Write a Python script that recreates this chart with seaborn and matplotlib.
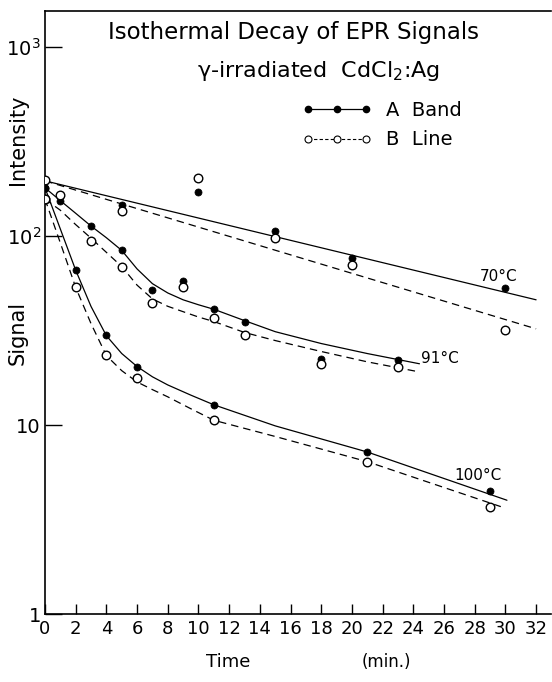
import numpy as np
import pandas as pd
import matplotlib
matplotlib.use("Agg")
import matplotlib.pyplot as plt
import seaborn as sns
from matplotlib.lines import Line2D
from matplotlib.ticker import FixedLocator, FixedFormatter, NullLocator

# ---- measured points (A band = filled, B line = open) ----
t70 = [0, 5, 10, 15, 20, 30]
a70 = [196, 146, 171, 106, 77, 53]
b70 = [199, 136, 203, 98, 70, 32]

t91 = [0, 1, 3, 5, 7, 9, 11, 13, 18, 23]
a91 = [180, 153, 113, 84, 52, 58, 41, 35, 22.4, 22.2]
b91 = [157, 165, 94, 69, 44, 54, 37, 30, 21, 20.4]

t100 = [0, 2, 4, 6, 11, 21, 29]
a100 = [180, 66, 30, 20.3, 12.8, 7.2, 4.46]
b100 = [157, 54, 23.6, 17.8, 10.6, 6.4, 3.7]

# ---- hand-drawn fit curves ----
f70_t = [0, 32]
f70_a = [196, 46]
f70_b = [196, 32.3]

f91_t = [0, 1, 2, 3, 4, 5, 6, 7, 8, 9, 10, 11, 13, 15, 18, 21, 24.4]
f91_a = [180, 154, 132, 113, 98, 84, 67, 56, 50, 46, 43.3, 41, 35.7, 31.2, 27, 23.9, 21.1]
f91_b = [157, 137, 115, 97.5, 82, 69, 55, 46.5, 42.5, 39.8, 37.3, 35.3, 30.9, 28, 24.5, 21.6, 19.1]

f100_ta = [0, 1, 2, 3, 4, 5, 6, 7, 8, 9.5, 11, 15, 21, 30.1]
f100_a = [180, 109, 66, 42.4, 29.7, 23.9, 20.4, 18, 16.3, 14.4, 12.8, 9.9, 7.2, 4.0]
f100_tb = [0, 1, 2, 3, 4, 5, 6, 7, 8, 9.5, 11, 15, 21, 29.7]
f100_b = [157, 92, 53.5, 34.4, 23.3, 19.4, 16.9, 15.4, 14.1, 12.2, 10.6, 8.7, 6.4, 3.7]

temp_labels = ["70°C", "91°C", "100°C"]
temp_label_t = [28.3, 24.5, 26.7]
temp_label_v = [61, 22.4, 5.4]

xticks = list(range(0, 33, 2))
yticks = [1, 10, 100, 1000]
ytick_labels = ["1", "10", "$10^2$", "$10^3$"]

sns.set_style("ticks")
plt.rcParams['font.family'] = ['DejaVu Sans']
plt.rcParams['text.color'] = 'black'
plt.rcParams['axes.labelcolor'] = 'black'
plt.rcParams['xtick.color'] = 'black'
plt.rcParams['ytick.color'] = 'black'

fig = plt.figure(figsize=(5.52, 6.82), dpi=100)
ax = fig.add_axes([45/552, 1-614/682, 1-45/552 - 0.001, (614-11)/682])

# curves
for tt, vv in [(f70_t, f70_a), (f91_t, f91_a), (f100_ta, f100_a)]:
    sns.lineplot(x=tt, y=vv, color='black', lw=0.9, sort=False, estimator=None, ax=ax)
for tt, vv in [(f70_t, f70_b), (f91_t, f91_b), (f100_tb, f100_b)]:
    sns.lineplot(x=tt, y=vv, color='black', lw=0.9, linestyle=(0, (6, 4)),
                 sort=False, estimator=None, ax=ax)

# points
for tt, vv in [(t70, a70), (t91, a91), (t100, a100)]:
    sns.scatterplot(x=tt, y=vv, color='black', edgecolor='black', s=26, marker='o',
                    linewidth=0.5, zorder=4, ax=ax)
for tt, vv in [(t70, b70), (t91, b91), (t100, b100)]:
    sns.scatterplot(x=tt, y=vv, color='white', edgecolor='black', s=38, marker='o',
                    linewidth=1.0, zorder=4, ax=ax)

ax.set_yscale('log')
ax.set_xlim(0, 33)
ax.set_ylim(1, 1553)
ax.xaxis.set_major_locator(FixedLocator(xticks))
ax.xaxis.set_major_formatter(FixedFormatter([str(v) for v in xticks]))
ax.yaxis.set_major_locator(FixedLocator(yticks))
ax.yaxis.set_major_formatter(FixedFormatter(ytick_labels))
ax.yaxis.set_minor_locator(NullLocator())
ax.tick_params(axis='y', direction='in', length=12, width=1, labelsize=14, pad=3, colors='black')
ax.tick_params(axis='x', direction='in', length=7, width=1, labelsize=13, pad=4, colors='black')
for s in ['left', 'bottom', 'top']:
    ax.spines[s].set_linewidth(1.2)
    ax.spines[s].set_color('black')
ax.spines['right'].set_visible(False)
ax.set_xlabel('')
ax.set_ylabel('')

for lab, lt, lv in zip(temp_labels, temp_label_t, temp_label_v):
    ax.text(lt, lv, lab, fontsize=11, ha='left', va='center', color='black')

# legend
h1 = Line2D([], [], color='black', lw=0.9, marker='o', markersize=4.5,
            markerfacecolor='black', markeredgecolor='black')
h2 = Line2D([], [], color='black', lw=0.8, linestyle=(0, (3, 2)), marker='o',
            markersize=5, markerfacecolor='white', markeredgecolor='black', markeredgewidth=0.8)
leg = fig.legend([h1, h2], ['A  Band', 'B  Line'], loc='center left',
                 bbox_to_anchor=(302/552, 1-125/682), frameon=False, numpoints=3,
                 handlelength=3.6, fontsize=14, labelspacing=0.55, handletextpad=0.7,
                 borderaxespad=0, borderpad=0)
for txt in leg.get_texts():
    txt.set_color('black')

# titles
fig.text(293/552, 1-32/682, 'Isothermal Decay of EPR Signals', ha='center', va='center',
         fontsize=16.5, color='black')
fig.text(318/552, 1-71/682, 'γ-irradiated  CdCl$_2$:Ag', ha='center', va='center',
         fontsize=16, color='black')

# axis labels
fig.text(18/552, 1-140/682, 'Intensity', rotation=90, ha='center', va='center', fontsize=15, color='black')
fig.text(18/552, 1-333/682, 'Signal', rotation=90, ha='center', va='center', fontsize=15, color='black')
fig.text(228/552, 1-662/682, 'Time', ha='center', va='center', fontsize=13, color='black')
fig.text(386/552, 1-662/682, '(min.)', ha='center', va='center', fontsize=12, color='black')

fig.savefig('out.png', dpi=100, facecolor='white')
